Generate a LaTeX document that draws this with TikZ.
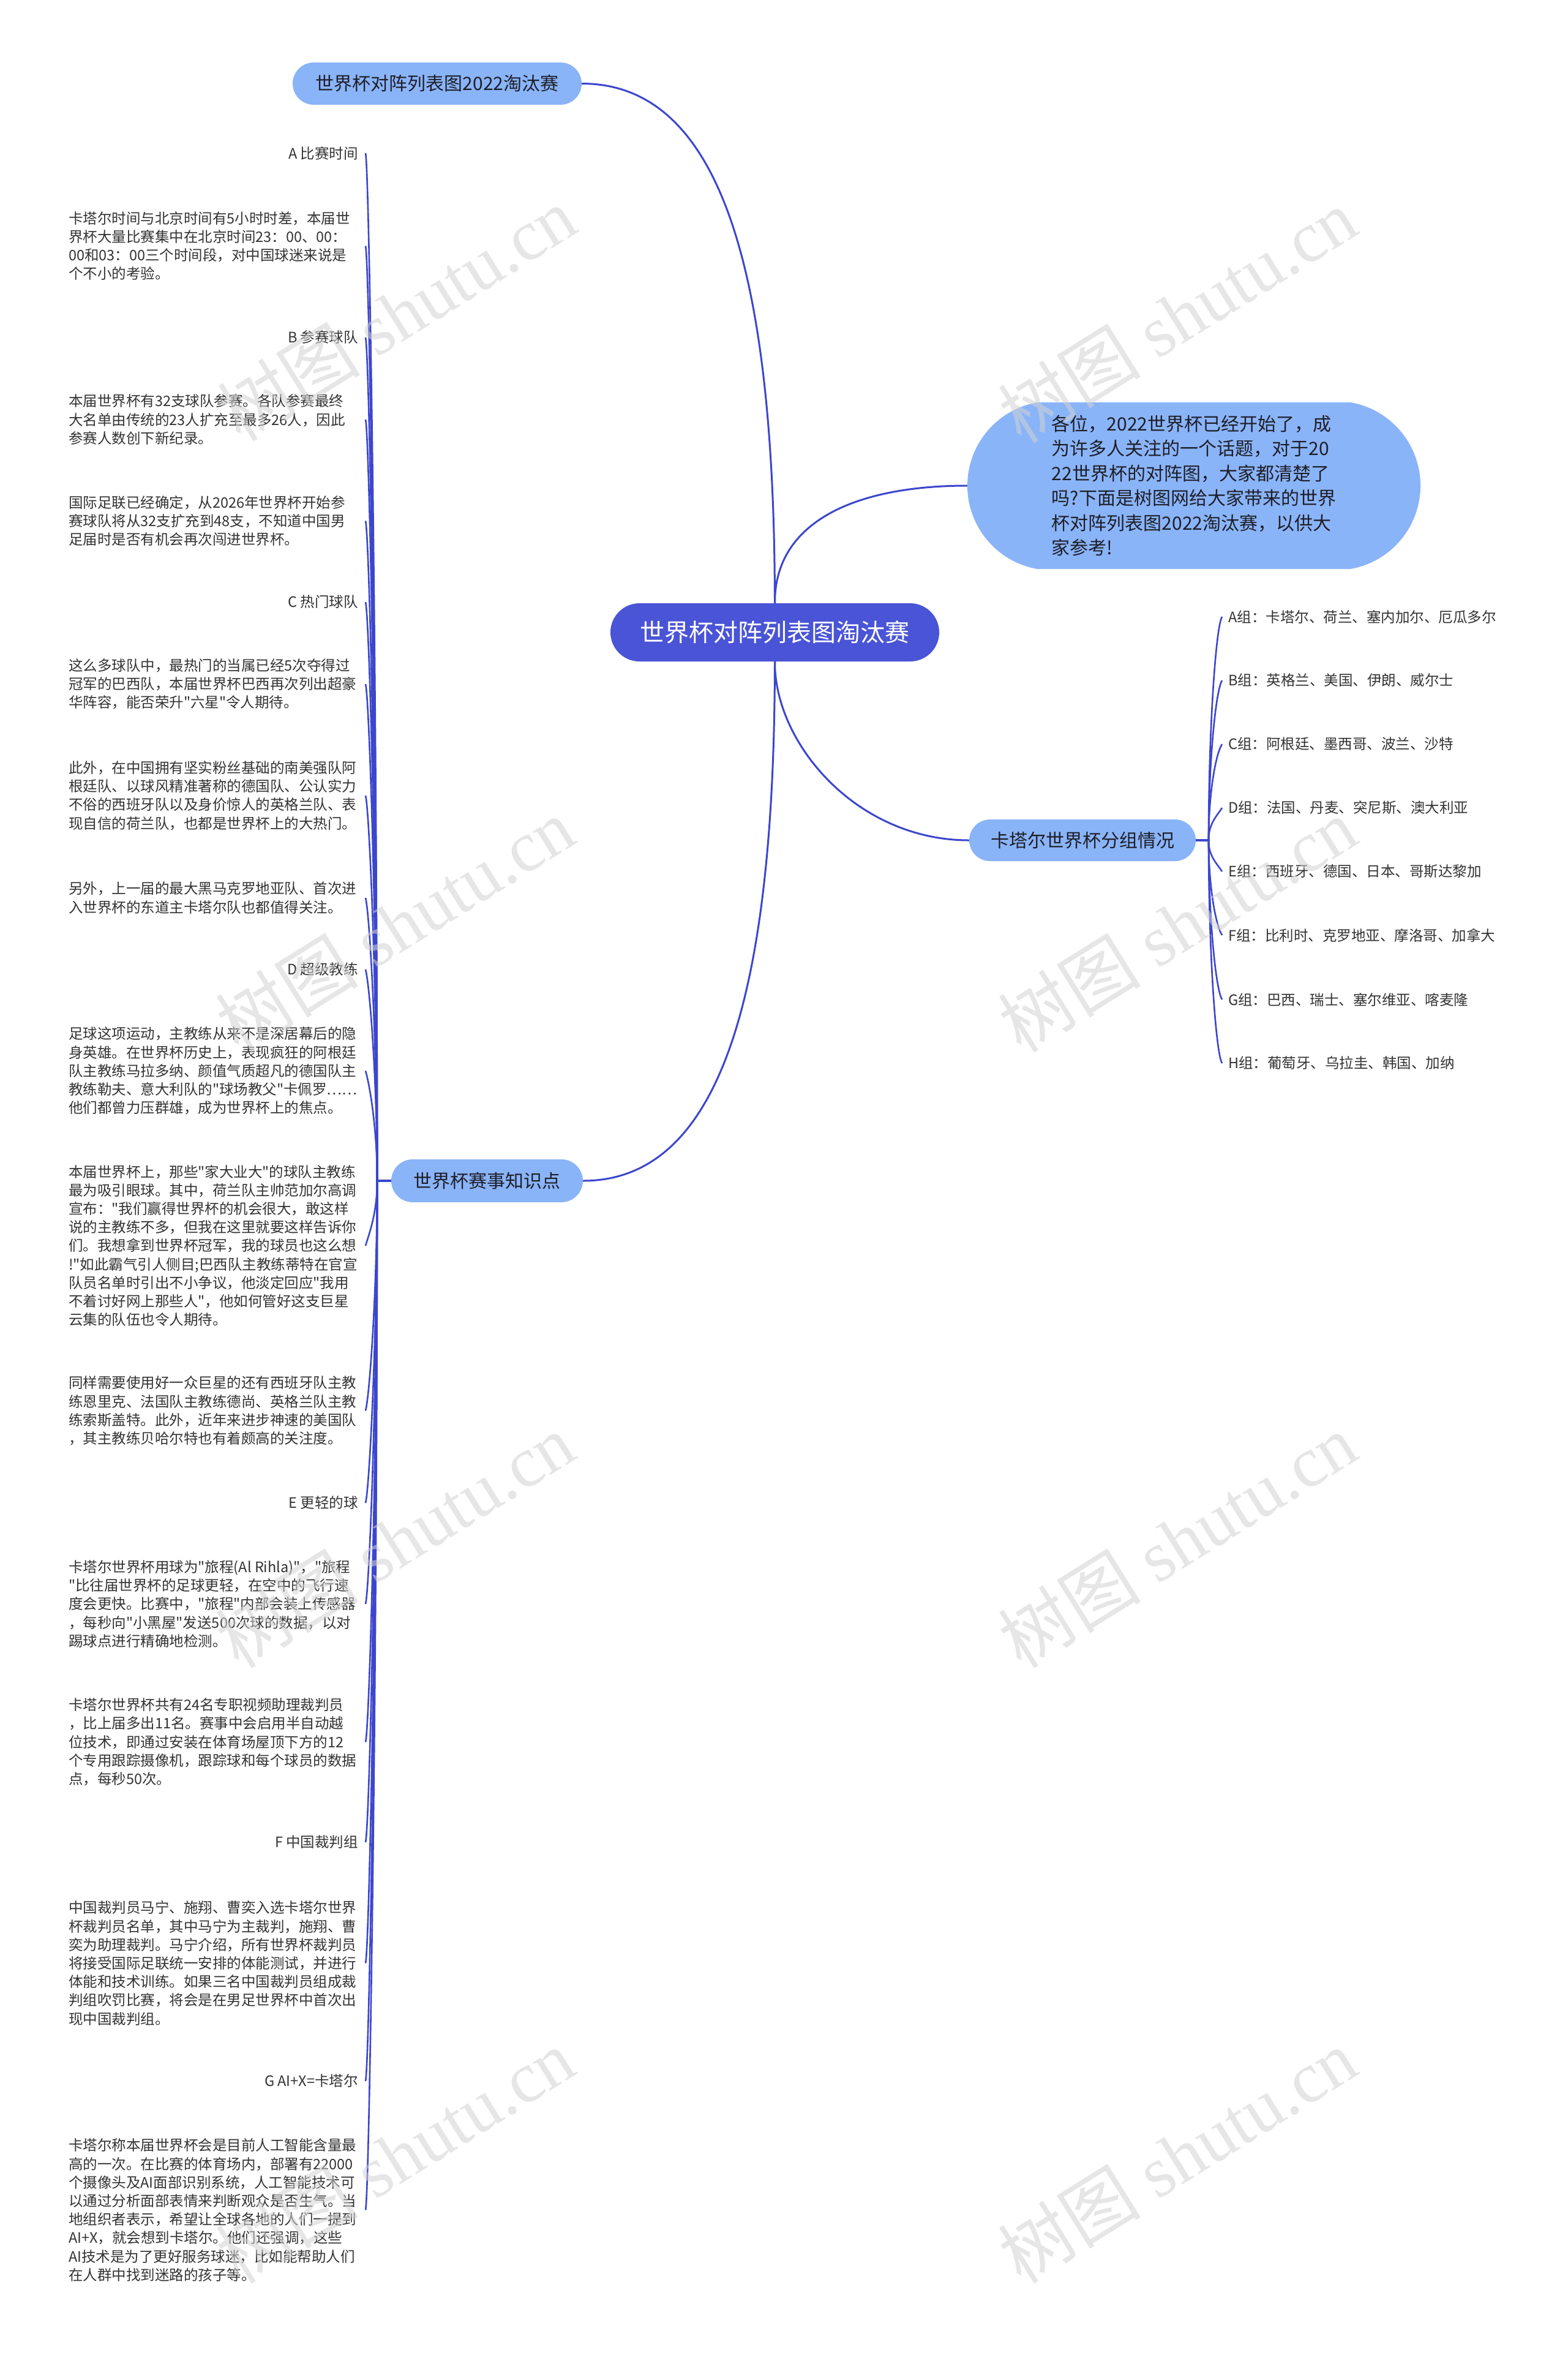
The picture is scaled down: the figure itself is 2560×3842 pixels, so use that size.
\documentclass[tikz,border=0pt]{standalone}
\usepackage{fontspec}
\newfontfamily\cjk{Noto Sans CJK SC}
\newfontfamily\wmserif{Liberation Serif}
\usetikzlibrary{shapes.misc}
\definecolor{linec}{RGB}{60,70,205}
\definecolor{rootc}{RGB}{74,84,214}
\definecolor{mainc}{RGB}{138,180,248}
\definecolor{txtc}{RGB}{51,51,51}
\definecolor{darkt}{RGB}{30,30,40}
\begin{document}
\begin{tikzpicture}[x=1pt,y=-1pt,
  conn/.style={draw=linec, line width=3pt},
  twig/.style={draw=linec, line width=2.6pt},
  pill/.style={shape=rounded rectangle, fill=mainc, inner sep=0pt, text=darkt, font={\cjk\fontsize{30}{36}\selectfont}},
  rootbox/.style={shape=rounded rectangle, fill=rootc, inner sep=0pt, text=white, font={\cjk\fontsize{40}{48}\selectfont}},
  introbox/.style={shape=rounded rectangle, rounded rectangle arc length=160, fill=mainc, inner sep=0pt, text=darkt, align=left, font={\cjk\fontsize{30}{40.4}\selectfont}},
  leaf/.style={inner sep=0pt, text=txtc, align=left, font={\cjk\fontsize{23.5}{30.2}\selectfont}},
  title/.style={leaf, anchor=east},
  para/.style={leaf, anchor=west},
  grp/.style={leaf, anchor=west},
  wm/.style={text=gray!35, text opacity=0.55, rotate=32, inner sep=0pt}
]
\useasboundingbox (0,0) rectangle (2560,3842);
\fill[white] (0,0) rectangle (2560,3842);

% main nodes
\node[rootbox, minimum width=537, minimum height=95] (root) at (1265.5,1032.5) {世界杯对阵列表图淘汰赛};
\node[pill, minimum width=472, minimum height=69] (top) at (714,136.5) {世界杯对阵列表图2022淘汰赛};
\node[introbox, minimum width=740, minimum height=272] (intro) at (1950,793) {各位，2022世界杯已经开始了，成\\为许多人关注的一个话题，对于20\\22世界杯的对阵图，大家都清楚了\\吗?下面是树图网给大家带来的世界\\杯对阵列表图2022淘汰赛，以供大\\家参考!};
\node[pill, minimum width=370, minimum height=68] (grp) at (1768,1372) {卡塔尔世界杯分组情况};
\node[pill, minimum width=313, minimum height=70] (know) at (795.5,1928) {世界杯赛事知识点};

% group leaves
\node[grp] (ga) at (2006,1007) {A组：卡塔尔、荷兰、塞内加尔、厄瓜多尔};
\node[grp] (gb) at (2006,1111) {B组：英格兰、美国、伊朗、威尔士};
\node[grp] (gc) at (2006,1215) {C组：阿根廷、墨西哥、波兰、沙特};
\node[grp] (gd) at (2006,1319) {D组：法国、丹麦、突尼斯、澳大利亚};
\node[grp] (ge) at (2006,1423) {E组：西班牙、德国、日本、哥斯达黎加};
\node[grp] (gf) at (2006,1527) {F组：比利时、克罗地亚、摩洛哥、加拿大};
\node[grp] (gg) at (2006,1632) {G组：巴西、瑞士、塞尔维亚、喀麦隆};
\node[grp] (gh) at (2006,1736) {H组：葡萄牙、乌拉圭、韩国、加纳};

% knowledge leaves
\node[title] (ta) at (585,250) {A 比赛时间};
\node[para] (p1) at (112,401.5) {卡塔尔时间与北京时间有5小时时差，本届世\\界杯大量比赛集中在北京时间23：00、00：\\00和03：00三个时间段，对中国球迷来说是\\个不小的考验。};
\node[title] (tb) at (585,551) {B 参赛球队};
\node[para] (p2) at (112,685) {本届世界杯有32支球队参赛。各队参赛最终\\大名单由传统的23人扩充至最多26人，因此\\参赛人数创下新纪录。};
\node[para] (p3) at (112,850.5) {国际足联已经确定，从2026年世界杯开始参\\赛球队将从32支扩充到48支，不知道中国男\\足届时是否有机会再次闯进世界杯。};
\node[title] (tc) at (585,983) {C 热门球队};
\node[para] (p4) at (112,1117) {这么多球队中，最热门的当属已经5次夺得过\\冠军的巴西队，本届世界杯巴西再次列出超豪\\华阵容，能否荣升"六星"令人期待。};
\node[para] (p5) at (112,1299) {此外，在中国拥有坚实粉丝基础的南美强队阿\\根廷队、以球风精准著称的德国队、公认实力\\不俗的西班牙队以及身价惊人的英格兰队、表\\现自信的荷兰队，也都是世界杯上的大热门。};
\node[para] (p6) at (112,1466) {另外，上一届的最大黑马克罗地亚队、首次进\\入世界杯的东道主卡塔尔队也都值得关注。};
\node[title] (td) at (585,1583) {D 超级教练};
\node[para] (p7) at (112,1748.5) {足球这项运动，主教练从来不是深居幕后的隐\\身英雄。在世界杯历史上，表现疯狂的阿根廷\\队主教练马拉多纳、颜值气质超凡的德国队主\\教练勒夫、意大利队的"球场教父"卡佩罗……\\他们都曾力压群雄，成为世界杯上的焦点。};
\node[para] (p8) at (112,2034) {本届世界杯上，那些"家大业大"的球队主教练\\最为吸引眼球。其中，荷兰队主帅范加尔高调\\宣布："我们赢得世界杯的机会很大，敢这样\\说的主教练不多，但我在这里就要这样告诉你\\们。我想拿到世界杯冠军，我的球员也这么想\\!"如此霸气引人侧目;巴西队主教练蒂特在官宣\\队员名单时引出不小争议，他淡定回应"我用\\不着讨好网上那些人"，他如何管好这支巨星\\云集的队伍也令人期待。};
\node[para] (p9) at (112,2303.5) {同样需要使用好一众巨星的还有西班牙队主教\\练恩里克、法国队主教练德尚、英格兰队主教\\练索斯盖特。此外，近年来进步神速的美国队\\，其主教练贝哈尔特也有着颇高的关注度。};
\node[title] (te) at (585,2454) {E 更轻的球};
\node[para] (p10) at (112,2619) {卡塔尔世界杯用球为"旅程(Al Rihla)"，"旅程\\"比往届世界杯的足球更轻，在空中的飞行速\\度会更快。比赛中，"旅程"内部会装上传感器\\，每秒向"小黑屋"发送500次球的数据，以对\\踢球点进行精确地检测。};
\node[para] (p11) at (112,2844.5) {卡塔尔世界杯共有24名专职视频助理裁判员\\，比上届多出11名。赛事中会启用半自动越\\位技术，即通过安装在体育场屋顶下方的12\\个专用跟踪摄像机，跟踪球和每个球员的数据\\点，每秒50次。};
\node[title] (tf) at (585,3008) {F 中国裁判组};
\node[para] (p12) at (112,3205.5) {中国裁判员马宁、施翔、曹奕入选卡塔尔世界\\杯裁判员名单，其中马宁为主裁判，施翔、曹\\奕为助理裁判。马宁介绍，所有世界杯裁判员\\将接受国际足联统一安排的体能测试，并进行\\体能和技术训练。如果三名中国裁判员组成裁\\判组吹罚比赛，将会是在男足世界杯中首次出\\现中国裁判组。};
\node[title] (tg) at (585,3398) {G AI+X=卡塔尔};
\node[para] (p13) at (112,3608.5) {卡塔尔称本届世界杯会是目前人工智能含量最\\高的一次。在比赛的体育场内，部署有22000\\个摄像头及AI面部识别系统，人工智能技术可\\以通过分析面部表情来判断观众是否生气。当\\地组织者表示，希望让全球各地的人们一提到\\AI+X，就会想到卡塔尔。他们还强调，这些\\AI技术是为了更好服务球迷，比如能帮助人们\\在人群中找到迷路的孩子等。};

% main connectors
\draw[conn] (root.north) .. controls (1265,450) and (1180,136.5) .. (top.east);
\draw[conn] (root.north) .. controls (1265,850) and (1400,793) .. (intro.west);
\draw[conn] (root.south) .. controls (1265,1215) and (1400,1372) .. (grp.west);
\draw[conn] (root.south) .. controls (1265,1615) and (1180,1928) .. (know.east);

% knowledge twigs
\foreach \n/\y in {ta/250,p1/401.5,tb/551,p2/685,p3/850.5,tc/983,p4/1117,p5/1299,p6/1466,td/1583,p7/1748.5,p8/2034,p9/2303.5,te/2454,p10/2619,p11/2844.5,tf/3008,p12/3205.5,tg/3398,p13/3608.5}{
  \pgfmathsetmacro{\sg}{sign(1928-\y)}
  \pgfmathsetmacro{\ya}{(\y+1928)/2}
  \pgfmathsetmacro{\yb}{\y+20*\sg}
  \draw[twig] (know.west) -- (616,1928) .. controls (616,\ya) and (603,\yb) .. (597,0 |- \n);
}
% group twigs
\foreach \n/\y in {ga/1007,gb/1111,gc/1215,gd/1319,ge/1423,gf/1527,gg/1632,gh/1736}{
  \pgfmathsetmacro{\sg}{sign(1372-\y)}
  \pgfmathsetmacro{\ya}{(\y+1372)/2}
  \pgfmathsetmacro{\yb}{\y+15*\sg}
  \draw[twig] (grp.east) -- (1974,1372) .. controls (1974,\ya) and (1986,\yb) .. (1996,0 |- \n);
}

% watermarks
\foreach \i/\x/\y in {1/648/512,2/1923/515,3/645/1510,4/1923/1510,5/645/2515,6/1923/2515,7/645/3520,8/1923/3520}{
  \node[wm] (wm\i) at (\x,\y) {{\cjk\fontsize{117}{122}\selectfont 树图}\hspace{28pt}{\wmserif\fontsize{117}{122}\selectfont shutu.cn}};
}
\end{tikzpicture}
\end{document}
